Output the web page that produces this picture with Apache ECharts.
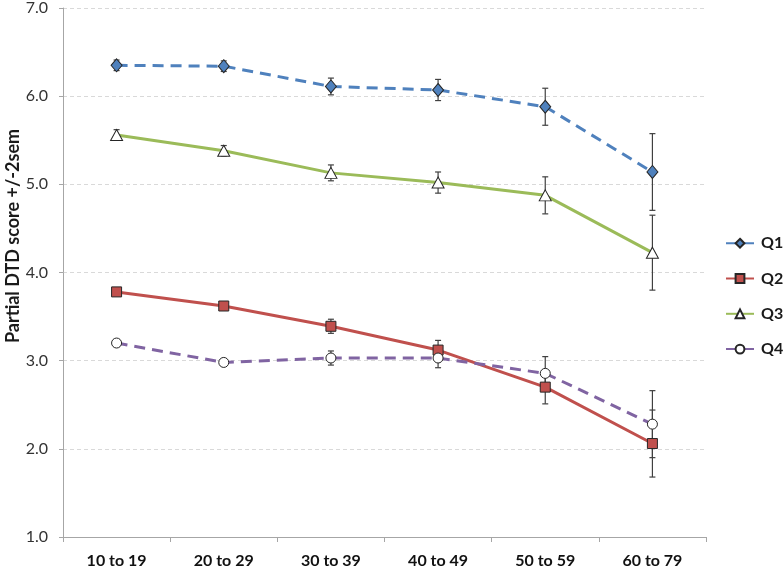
<!DOCTYPE html>
<html>
<head>
<meta charset="utf-8">
<script src="https://cdn.jsdelivr.net/npm/echarts@6/dist/echarts.min.js"></script>
<style>
html,body{margin:0;padding:0;background:#fff;}
#chart{width:784px;height:570px;}
</style>
</head>
<body>
<div id="chart"></div>
<script>
var categories = ['10 to 19', '20 to 29', '30 to 39', '40 to 49', '50 to 59', '60 to 79'];
var yTicks = [1, 2, 3, 4, 5, 6, 7];
var yTitle = 'Partial DTD score +/-2sem';
var q1Mean = [6.35, 6.34, 6.11, 6.07, 5.88, 5.14];
var q1Err  = [0.06, 0.06, 0.095, 0.12, 0.21, 0.435];
var q2Mean = [3.78, 3.62, 3.39, 3.12, 2.70, 2.06];
var q2Err  = [0.04, 0.04, 0.08, 0.11, 0.19, 0.38];
var q3Mean = [5.56, 5.38, 5.13, 5.02, 4.875, 4.225];
var q3Err  = [0.06, 0.06, 0.09, 0.12, 0.21, 0.425];
var q4Mean = [3.20, 2.98, 3.03, 3.03, 2.856, 2.28];
var q4Err  = [0.04, 0.04, 0.08, 0.11, 0.19, 0.38];

var FONT = 'Lato, "Open Sans", sans-serif';

function errData(mean, err) {
  return mean.map(function (m, i) { return [i, m - err[i], m + err[i]]; });
}

function errSeries(name, mean, err) {
  return {
    name: name + ' err',
    type: 'custom',
    z: 1,
    silent: true,
    data: errData(mean, err),
    encode: { x: 0, y: [1, 2] },
    renderItem: function (params, api) {
      var lo = api.coord([api.value(0), api.value(1)]);
      var hi = api.coord([api.value(0), api.value(2)]);
      var hw = 3;
      var st = { stroke: '#404040', lineWidth: 1.2 };
      return {
        type: 'group',
        children: [
          { type: 'line', shape: { x1: lo[0], y1: lo[1], x2: hi[0], y2: hi[1] }, style: st },
          { type: 'line', shape: { x1: lo[0] - hw, y1: lo[1], x2: lo[0] + hw, y2: lo[1] }, style: st },
          { type: 'line', shape: { x1: hi[0] - hw, y1: hi[1], x2: hi[0] + hw, y2: hi[1] }, style: st }
        ]
      };
    }
  };
}

function lineSeries(name, data, color, dashed, symbol, size, fill) {
  return {
    name: name,
    type: 'line',
    z: 3,
    data: data,
    symbol: symbol,
    symbolSize: size,
    showAllSymbol: true,
    lineStyle: { color: color, width: 3, type: dashed ? [11, 7] : 'solid' },
    itemStyle: { color: fill, borderColor: '#262626', borderWidth: 1 },
    emphasis: { disabled: true }
  };
}

var chart = echarts.init(document.getElementById('chart'));
chart.setOption({
  animation: false,
  backgroundColor: '#ffffff',
  grid: { left: 63, right: 78, top: 8, bottom: 33, containLabel: false },
  graphic: [{
    type: 'text',
    x: 13,
    y: 236,
    rotation: Math.PI / 2,
    silent: true,
    style: {
      text: yTitle,
      fontFamily: FONT,
      fontSize: 18,
      fontWeight: 'bold',
      fill: '#1a1a1a',
      textAlign: 'center',
      textVerticalAlign: 'middle'
    }
  }],
  legend: {
    orient: 'vertical',
    left: 725,
    top: 235.2,
    padding: 0,
    itemWidth: 28,
    itemHeight: 11,
    itemGap: 19.3,
    data: ['Q1', 'Q2', 'Q3', 'Q4'],
    textStyle: { fontFamily: FONT, fontSize: 16, lineHeight: 11, fontWeight: 'bold', color: '#1a1a1a', padding: [0, 0, 0, 2] }
  },
  xAxis: {
    type: 'category',
    data: categories,
    boundaryGap: true,
    axisLine: { lineStyle: { color: '#a6a6a6', width: 1 } },
    axisTick: { show: true, length: 5, lineStyle: { color: '#a6a6a6' } },
    axisLabel: { fontFamily: FONT, fontSize: 16, fontWeight: 'bold', color: '#111111', margin: 16 },
    splitLine: { show: false }
  },
  yAxis: {
    type: 'value',
    min: yTicks[0],
    max: yTicks[yTicks.length - 1],
    interval: 1,
    axisLine: { show: true, lineStyle: { color: '#a6a6a6', width: 1 } },
    axisTick: { show: true, length: 4, lineStyle: { color: '#a6a6a6' } },
    axisLabel: {
      fontFamily: FONT, fontSize: 16, color: '#333333', margin: 15,
      formatter: function (v) { return v.toFixed(1); }
    },
    splitLine: { show: true, lineStyle: { color: '#d9d9d9', type: [4, 3], width: 1 } }
  },
  series: [
    errSeries('Q1', q1Mean, q1Err),
    errSeries('Q2', q2Mean, q2Err),
    errSeries('Q3', q3Mean, q3Err),
    errSeries('Q4', q4Mean, q4Err),
    lineSeries('Q1', q1Mean, '#4f81bd', true, 'diamond', [11, 13], '#4f81bd'),
    lineSeries('Q2', q2Mean, '#c0504d', false, 'rect', 10, '#c0504d'),
    lineSeries('Q3', q3Mean, '#9bbb59', false, 'triangle', [12, 11], '#ffffff'),
    lineSeries('Q4', q4Mean, '#8064a2', true, 'circle', 10, '#ffffff')
  ]
});
</script>
</body>
</html>
